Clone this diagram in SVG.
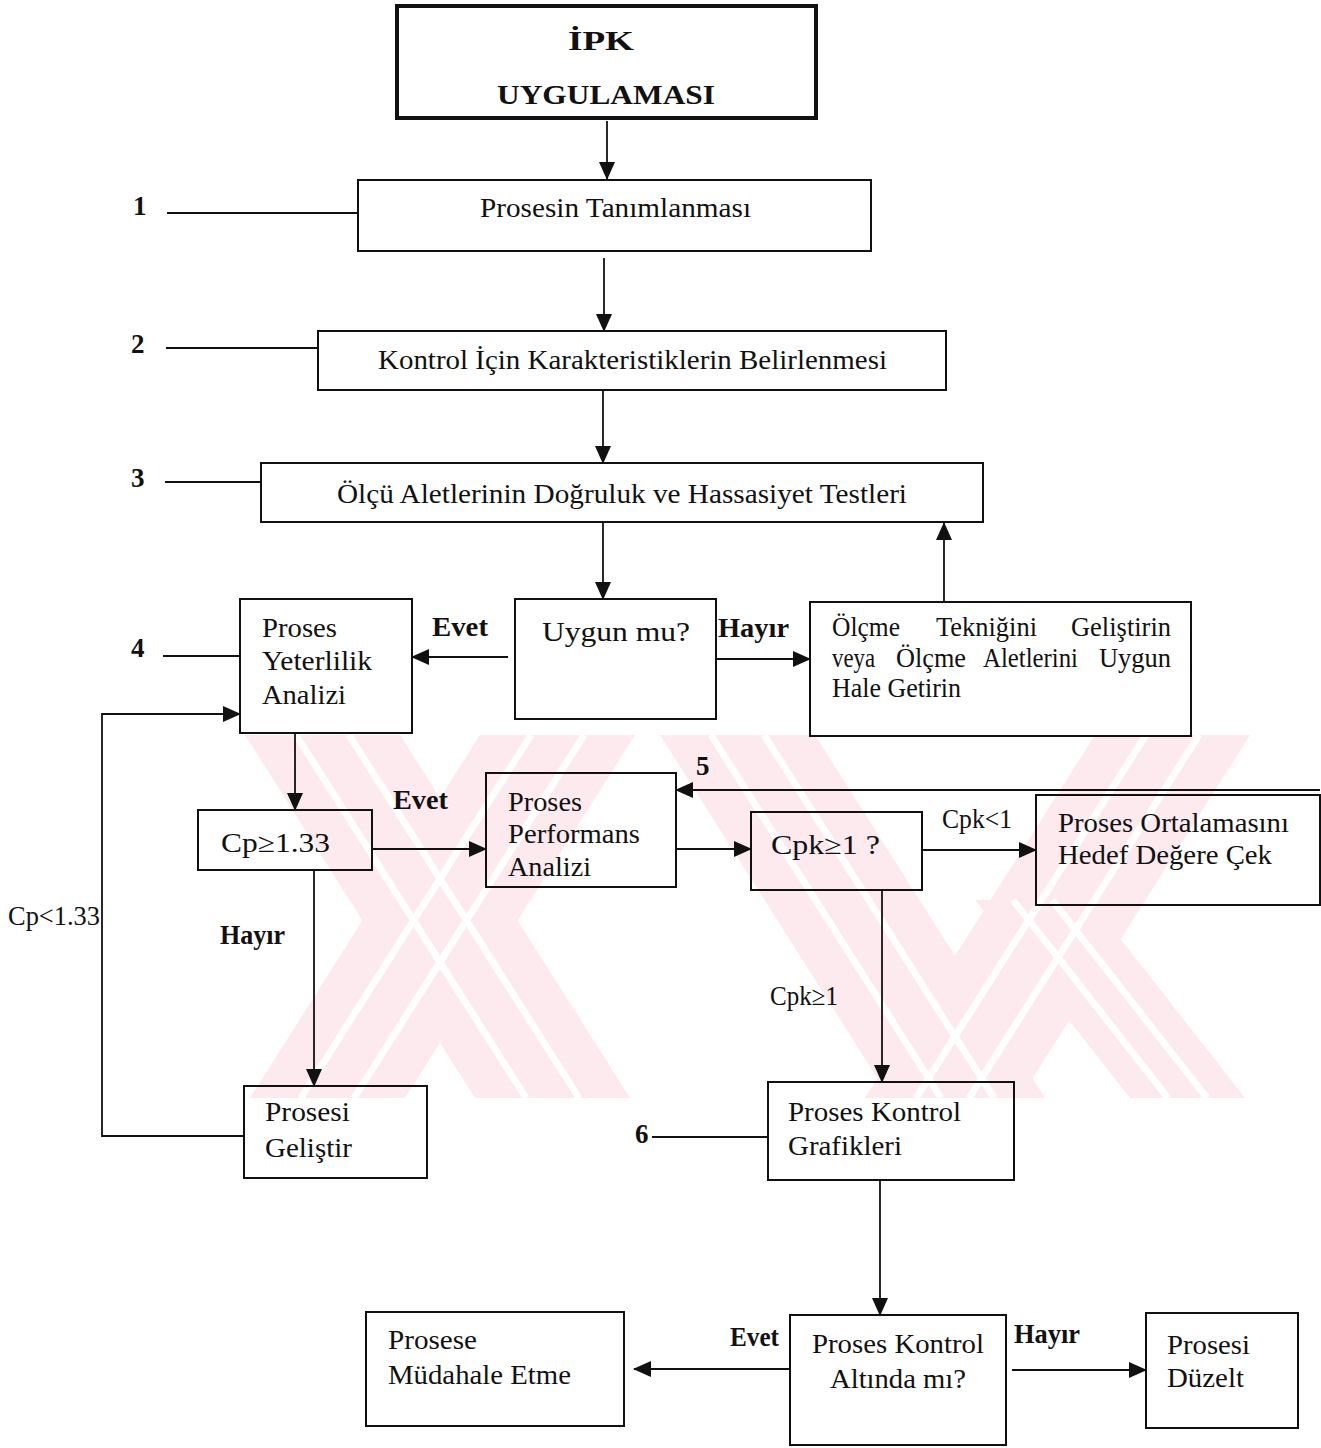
<svg xmlns="http://www.w3.org/2000/svg" width="1321" height="1448" viewBox="0 0 1321 1448">
<defs>
<style>
.box{fill:none;stroke:#111;stroke-width:2}
.ln{fill:none;stroke:#111;stroke-width:1.8}
.lna{fill:none;stroke:#111;stroke-width:1.8;marker-end:url(#ah)}
.t{font-family:"Liberation Serif","Times New Roman",serif;font-size:27px;fill:#111}
.b{font-weight:bold}
.wm{fill:#fdeaee}
.wg{stroke:#fff;stroke-width:7;fill:none}
</style>
<marker id="ah" markerUnits="userSpaceOnUse" markerWidth="18" markerHeight="16" refX="17" refY="8" orient="auto">
<path d="M0,0 L18,8 L0,16 z" fill="#111"/>
</marker>
</defs>
<rect width="1321" height="1448" fill="#fff"/>

<g id="watermark">
<polygon class="wm" points="245,735 400,735 630,1098 475,1098"/>
<polygon class="wm" points="480,735 635,735 405,1098 250,1098"/>
<polygon class="wm" points="660,735 815,735 1045,1098 890,1098"/>
<polygon class="wm" points="1095,735 1250,735 1020,1098 865,1098"/>
<polygon class="wm" points="975,900 1090,900 1245,1098 1130,1098"/>
<line class="wg" x1="296" y1="735" x2="526" y2="1098"/>
<line class="wg" x1="349" y1="735" x2="579" y2="1098"/>
<line class="wg" x1="584" y1="735" x2="354" y2="1098"/>
<line class="wg" x1="531" y1="735" x2="301" y2="1098"/>
<line class="wg" x1="711" y1="735" x2="941" y2="1098"/>
<line class="wg" x1="764" y1="735" x2="994" y2="1098"/>
<line class="wg" x1="1199" y1="735" x2="969" y2="1098"/>
<line class="wg" x1="1146" y1="735" x2="916" y2="1098"/>
<line class="wg" x1="1013" y1="900" x2="1168" y2="1098"/>
<line class="wg" x1="1052" y1="900" x2="1207" y2="1098"/>
</g>

<g id="connectors">
<line class="lna" x1="607" y1="121" x2="607" y2="179"/>
<line class="lna" x1="604" y1="258" x2="604" y2="331"/>
<line class="lna" x1="603" y1="391" x2="603" y2="463"/>
<line class="lna" x1="603" y1="523" x2="603" y2="599"/>
<line class="lna" x1="508" y1="657" x2="412" y2="657"/>
<line class="lna" x1="717" y1="659" x2="810" y2="659"/>
<line class="lna" x1="944" y1="601" x2="944" y2="523"/>
<polyline class="lna" points="244,1136 102,1136 102,714 240,714"/>
<line class="lna" x1="295" y1="734" x2="295" y2="810"/>
<line class="lna" x1="373" y1="849" x2="486" y2="849"/>
<line class="lna" x1="1320" y1="790" x2="676" y2="790"/>
<line class="lna" x1="677" y1="849" x2="751" y2="849"/>
<line class="lna" x1="923" y1="850" x2="1036" y2="850"/>
<line class="lna" x1="882" y1="891" x2="882" y2="1082"/>
<line class="lna" x1="314" y1="871" x2="314" y2="1086"/>
<line class="lna" x1="880" y1="1181" x2="880" y2="1315"/>
<line class="lna" x1="790" y1="1369" x2="634" y2="1369"/>
<line class="lna" x1="1012" y1="1370" x2="1146" y2="1370"/>
<line class="ln" x1="167" y1="213" x2="358" y2="213"/>
<line class="ln" x1="166" y1="348" x2="318" y2="348"/>
<line class="ln" x1="165" y1="482" x2="261" y2="482"/>
<line class="ln" x1="163" y1="656" x2="240" y2="656"/>
<line class="ln" x1="652" y1="1137" x2="768" y2="1137"/>
</g>

<g id="labels">
<text class="t b" x="133" y="215" font-size="28">1</text>
<text class="t b" x="131" y="353" font-size="28">2</text>
<text class="t b" x="131" y="487" font-size="28">3</text>
<text class="t b" x="131" y="657" font-size="28">4</text>
<text class="t b" x="696" y="775" font-size="28">5</text>
<text class="t b" x="635" y="1143" font-size="28">6</text>
<text class="t b" x="432" y="636" font-size="26" textLength="56" lengthAdjust="spacingAndGlyphs">Evet</text>
<text class="t b" x="718" y="637" font-size="26" textLength="71" lengthAdjust="spacingAndGlyphs">Hayır</text>
<text class="t b" x="393" y="809" font-size="26" textLength="55" lengthAdjust="spacingAndGlyphs">Evet</text>
<text class="t b" x="220" y="944" font-size="24" textLength="65" lengthAdjust="spacingAndGlyphs">Hayır</text>
<text class="t" x="8" y="925" font-size="25" textLength="92" lengthAdjust="spacingAndGlyphs">Cp&lt;1.33</text>
<text class="t" x="942" y="828" font-size="25" textLength="70" lengthAdjust="spacingAndGlyphs">Cpk&lt;1</text>
<text class="t" x="770" y="1005" font-size="24" textLength="68" lengthAdjust="spacingAndGlyphs">Cpk≥1</text>
<text class="t b" x="730" y="1346" font-size="24" textLength="49" lengthAdjust="spacingAndGlyphs">Evet</text>
<text class="t b" x="1014" y="1343" font-size="24" textLength="66" lengthAdjust="spacingAndGlyphs">Hayır</text>
</g>

<g id="n-title">
<rect x="397" y="6" width="419" height="112" fill="none" stroke="#111" stroke-width="4"/>
<text class="t b" x="568" y="50" font-size="30" textLength="66" lengthAdjust="spacingAndGlyphs">İPK</text>
<text class="t b" x="497" y="104" font-size="30" textLength="218" lengthAdjust="spacingAndGlyphs">UYGULAMASI</text>
</g>

<g id="n1">
<rect class="box" x="358" y="180" width="513" height="71"/>
<text class="t" x="480" y="217" font-size="26" textLength="271" lengthAdjust="spacingAndGlyphs">Prosesin Tanımlanması</text>
</g>

<g id="n2">
<rect class="box" x="318" y="331" width="628" height="59"/>
<text class="t" x="378" y="369" textLength="509" lengthAdjust="spacingAndGlyphs">Kontrol İçin Karakteristiklerin Belirlenmesi</text>
</g>

<g id="n3">
<rect class="box" x="261" y="463" width="722" height="59"/>
<text class="t" x="337" y="503" textLength="570" lengthAdjust="spacingAndGlyphs">Ölçü Aletlerinin Doğruluk ve Hassasiyet Testleri</text>
</g>

<g id="n-uygun">
<rect class="box" x="515" y="599" width="201" height="120"/>
<text class="t" x="542" y="641" font-size="30" textLength="148" lengthAdjust="spacingAndGlyphs">Uygun mu?</text>
</g>

<g id="n-yeterlilik">
<rect class="box" x="240" y="599" width="172" height="134"/>
<text class="t" x="262" y="637" textLength="75" lengthAdjust="spacingAndGlyphs">Proses</text>
<text class="t" x="262" y="670" textLength="110" lengthAdjust="spacingAndGlyphs">Yeterlilik</text>
<text class="t" x="262" y="704" textLength="84" lengthAdjust="spacingAndGlyphs">Analizi</text>
</g>

<g id="n-olcme">
<rect class="box" x="810" y="602" width="381" height="134"/>
<text class="t" x="832" y="636" font-size="25" textLength="68" lengthAdjust="spacingAndGlyphs">Ölçme</text>
<text class="t" x="936" y="636" font-size="25" textLength="101" lengthAdjust="spacingAndGlyphs">Tekniğini</text>
<text class="t" x="1071" y="636" font-size="25" textLength="100" lengthAdjust="spacingAndGlyphs">Geliştirin</text>
<text class="t" x="832" y="667" font-size="25" textLength="43" lengthAdjust="spacingAndGlyphs">veya</text>
<text class="t" x="896" y="667" font-size="25" textLength="70" lengthAdjust="spacingAndGlyphs">Ölçme</text>
<text class="t" x="983" y="667" font-size="25" textLength="95" lengthAdjust="spacingAndGlyphs">Aletlerini</text>
<text class="t" x="1099" y="667" font-size="25" textLength="72" lengthAdjust="spacingAndGlyphs">Uygun</text>
<text class="t" x="832" y="697" font-size="25" textLength="129" lengthAdjust="spacingAndGlyphs">Hale Getirin</text>
</g>

<g id="n-cp">
<rect class="box" x="198" y="810" width="174" height="60"/>
<text class="t" x="221" y="852" font-size="30" textLength="109" lengthAdjust="spacingAndGlyphs">Cp≥1.33</text>
</g>

<g id="n-performans">
<rect class="box" x="486" y="773" width="190" height="114"/>
<text class="t" x="508" y="811" textLength="74" lengthAdjust="spacingAndGlyphs">Proses</text>
<text class="t" x="508" y="843" textLength="132" lengthAdjust="spacingAndGlyphs">Performans</text>
<text class="t" x="508" y="876" textLength="83" lengthAdjust="spacingAndGlyphs">Analizi</text>
</g>

<g id="n-cpk">
<rect class="box" x="751" y="812" width="171" height="78"/>
<text class="t" x="771" y="854" font-size="30" textLength="109" lengthAdjust="spacingAndGlyphs">Cpk≥1 ?</text>
</g>

<g id="n-ortalama">
<rect class="box" x="1036" y="795" width="284" height="110"/>
<text class="t" x="1058" y="832" textLength="231" lengthAdjust="spacingAndGlyphs">Proses Ortalamasını</text>
<text class="t" x="1058" y="864" textLength="214" lengthAdjust="spacingAndGlyphs">Hedef Değere Çek</text>
</g>

<g id="n-gelistir">
<rect class="box" x="244" y="1086" width="183" height="92"/>
<text class="t" x="265" y="1121" textLength="85" lengthAdjust="spacingAndGlyphs">Prosesi</text>
<text class="t" x="265" y="1157" textLength="87" lengthAdjust="spacingAndGlyphs">Geliştir</text>
</g>

<g id="n-grafikler">
<rect class="box" x="768" y="1082" width="246" height="98"/>
<text class="t" x="788" y="1121" textLength="173" lengthAdjust="spacingAndGlyphs">Proses Kontrol</text>
<text class="t" x="788" y="1155" textLength="114" lengthAdjust="spacingAndGlyphs">Grafikleri</text>
</g>

<g id="n-kontrol-altinda">
<rect class="box" x="790" y="1315" width="216" height="130"/>
<text class="t" x="812" y="1353" textLength="172" lengthAdjust="spacingAndGlyphs">Proses Kontrol</text>
<text class="t" x="830" y="1388" textLength="136" lengthAdjust="spacingAndGlyphs">Altında mı?</text>
</g>

<g id="n-mudahale">
<rect class="box" x="366" y="1312" width="258" height="114"/>
<text class="t" x="388" y="1349" textLength="89" lengthAdjust="spacingAndGlyphs">Prosese</text>
<text class="t" x="388" y="1384" textLength="183" lengthAdjust="spacingAndGlyphs">Müdahale Etme</text>
</g>

<g id="n-duzelt">
<rect class="box" x="1146" y="1313" width="152" height="115"/>
<text class="t" x="1167" y="1354" textLength="83" lengthAdjust="spacingAndGlyphs">Prosesi</text>
<text class="t" x="1167" y="1387" textLength="77" lengthAdjust="spacingAndGlyphs">Düzelt</text>
</g>
</svg>
